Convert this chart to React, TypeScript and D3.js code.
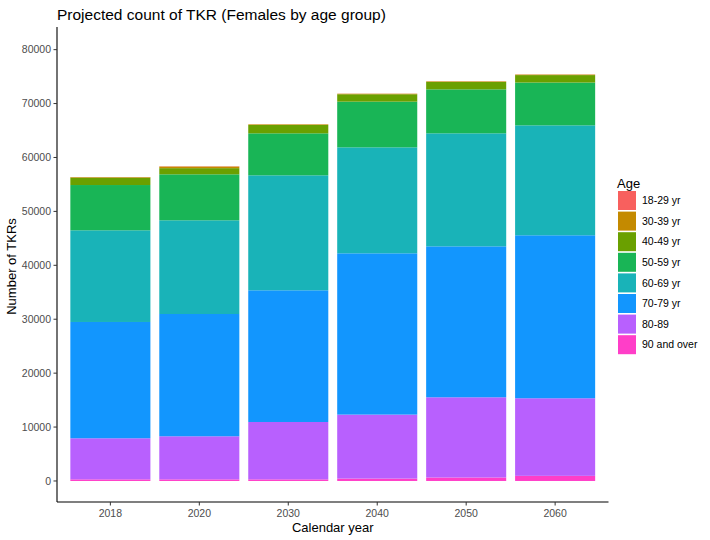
import React from "react";
import * as d3 from "d3";

const years = ["2018", "2020", "2030", "2040", "2050", "2060"];
const ageGroups = ["18-29 yr", "30-39 yr", "40-49 yr", "50-59 yr", "60-69 yr", "70-79 yr", "80-89", "90 and over"];
const ageColors = ["#F8605E", "#C48A00", "#6AA000", "#19B556", "#19B3B8", "#1296FE", "#B860FE", "#FF3EC8"];

// values per age group, one per year
const age18_29 = [15, 40, 10, 15, 15, 20];
const age30_39 = [100, 300, 110, 100, 100, 100];
const age40_49 = [1370, 1145, 1550, 1370, 1380, 1380];
const age50_59 = [8400, 8530, 7790, 8475, 8155, 7940];
const age60_69 = [17000, 17375, 21325, 19655, 20960, 20390];
const age70_79 = [21570, 22680, 24425, 29915, 28000, 30230];
const age80_89 = [7620, 7990, 10640, 11860, 14870, 14390];
const age90plus = [300, 300, 300, 450, 650, 950];

const yTicks = [0, 10000, 20000, 30000, 40000, 50000, 60000, 70000, 80000];

const series = [age18_29, age30_39, age40_49, age50_59, age60_69, age70_79, age80_89, age90plus];

export default function App() {
  const W = 710, H = 540;
  const left = 57, right = 608.5, top = 27, bottom = 502;

  const x = d3.scaleBand().domain(years).range([left, right]).paddingInner(0.1).paddingOuter(0.15);
  const y = d3.scaleLinear().domain([-3900, 84200]).range([bottom, top]);

  const rows = years.map((yr, i) => {
    const r: any = { year: yr };
    ageGroups.forEach((g, j) => (r[g] = series[j][i]));
    return r;
  });
  // stack bottom-up: 90 and over first
  const stackKeys = [...ageGroups].reverse();
  const stacked = d3.stack().keys(stackKeys)(rows);
  const color = d3.scaleOrdinal<string, string>().domain(ageGroups).range(ageColors);

  const font = "Liberation Sans, Arial, Helvetica, sans-serif";

  return (
    <svg width={W} height={H} style={{ position: "absolute", left: 0, top: 0, background: "#fff" }} fontFamily={font}>
      <rect x={0} y={0} width={W} height={H} fill="#fff" />
      <text x={57} y={20} fontSize={15.5} fill="#000">Projected count of TKR (Females by age group)</text>

      {stacked.map((layer) => (
        <g key={layer.key} fill={color(layer.key)}>
          {layer.map((d, i) => (
            <rect
              key={i}
              x={x(years[i])}
              width={x.bandwidth()}
              y={y(d[1])}
              height={Math.max(0, y(d[0]) - y(d[1]))}
            />
          ))}
        </g>
      ))}

      {/* axes */}
      <line x1={left} x2={left} y1={top} y2={bottom} stroke="#000" strokeWidth={1.1} />
      <line x1={left} x2={right} y1={bottom} y2={bottom} stroke="#000" strokeWidth={1.1} />
      {yTicks.map((t) => (
        <g key={t}>
          <line x1={left - 3.5} x2={left} y1={y(t)} y2={y(t)} stroke="#333" />
          <text x={left - 6} y={y(t)} dy="0.35em" textAnchor="end" fontSize={10.5} fill="#4D4D4D">{t}</text>
        </g>
      ))}
      {years.map((yr) => {
        const cx = (x(yr) as number) + x.bandwidth() / 2;
        return (
          <g key={yr}>
            <line x1={cx} x2={cx} y1={bottom} y2={bottom + 3.5} stroke="#333" />
            <text x={cx} y={bottom + 15} textAnchor="middle" fontSize={10.5} fill="#4D4D4D">{yr}</text>
          </g>
        );
      })}
      <text x={(left + right) / 2} y={532} textAnchor="middle" fontSize={13} fill="#000">Calendar year</text>
      <text transform={`translate(16,${(top + bottom) / 2 + 2}) rotate(-90)`} textAnchor="middle" fontSize={13} fill="#000">Number of TKRs</text>

      {/* legend */}
      <text x={617} y={188} fontSize={13} fill="#000">Age</text>
      {ageGroups.map((g, i) => {
        const yy = 191 + i * 20.6;
        return (
          <g key={g}>
            <rect x={618} y={yy} width={18} height={19} fill={color(g)} />
            <text x={642} y={yy + 9.5} dy="0.35em" fontSize={10.5} fill="#000">{g}</text>
          </g>
        );
      })}
    </svg>
  );
}
